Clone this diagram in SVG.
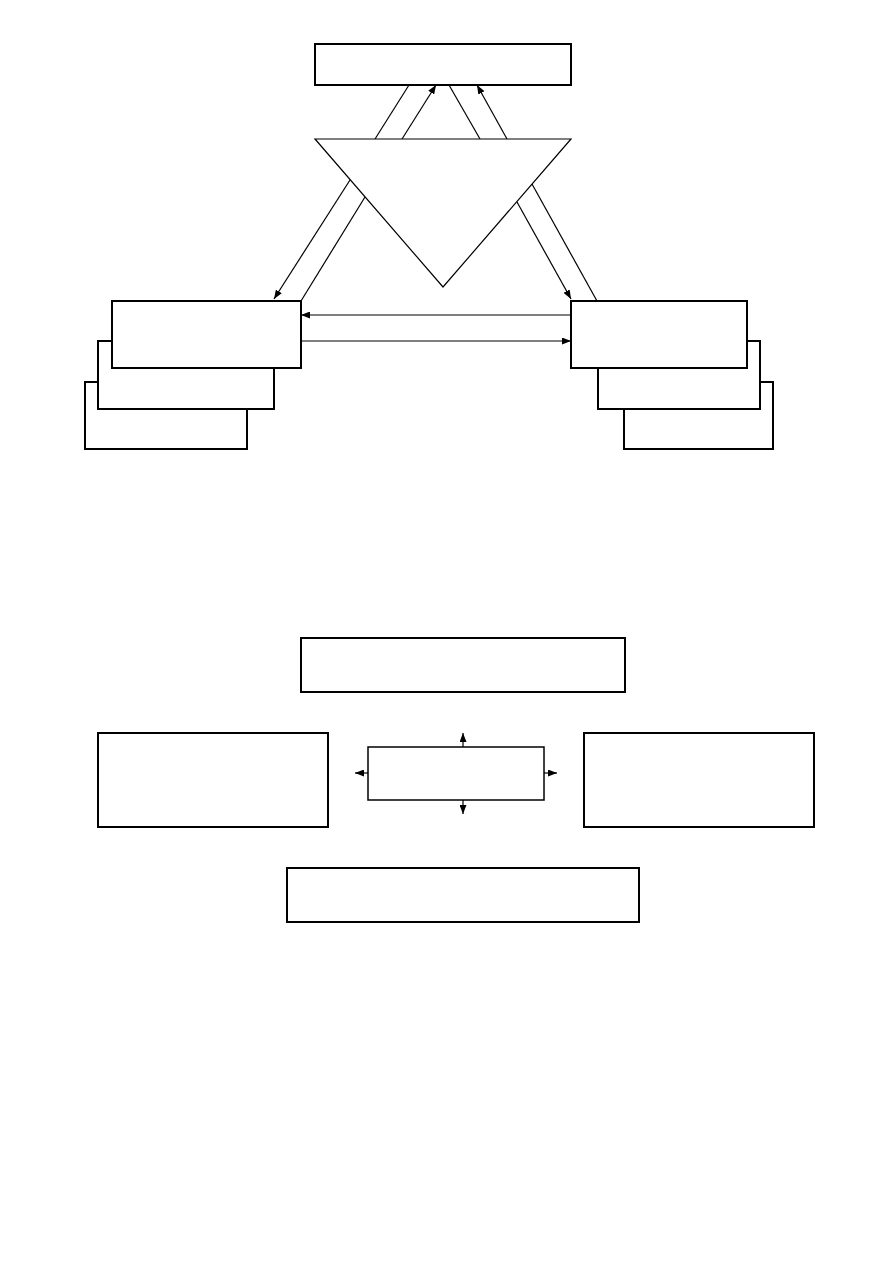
<svg xmlns="http://www.w3.org/2000/svg" width="893" height="1263" viewBox="0 0 893 1263">
  <defs>
    <marker id="arr" markerWidth="9" markerHeight="7" refX="9" refY="3.5" orient="auto" markerUnits="userSpaceOnUse">
      <path d="M0,0 L9,3.5 L0,7 Z" fill="#000"/>
    </marker>
    <style>
      .box{fill:#fff;stroke:#000;stroke-width:2}
      .thin{fill:#fff;stroke:#000;stroke-width:1.5}
      .tri{fill:#fff;stroke:#000;stroke-width:1.2}
      .c{fill:none;stroke:#000;stroke-width:1.2}
      .a{fill:none;stroke:#000;stroke-width:1.2;marker-end:url(#arr)}
    </style>
  </defs>
  <rect width="893" height="1263" fill="#fff"/>

  <g id="connectors">
    <line class="c" x1="375" y1="139" x2="409" y2="85"/>
    <line class="a" x1="402" y1="139" x2="436" y2="85"/>
    <line class="c" x1="480" y1="139" x2="449" y2="85"/>
    <line class="a" x1="507" y1="139" x2="477" y2="85"/>
    <line class="a" x1="350" y1="180" x2="274" y2="299"/>
    <line class="c" x1="365" y1="197" x2="301" y2="301"/>
    <line class="c" x1="532" y1="184" x2="597" y2="301"/>
    <line class="a" x1="517" y1="202" x2="571" y2="299"/>
    <line class="a" x1="571" y1="315" x2="301" y2="315"/>
    <line class="a" x1="301" y1="341" x2="571" y2="341"/>
    <line class="a" x1="463" y1="747" x2="463" y2="733"/>
    <line class="a" x1="463" y1="800" x2="463" y2="814"/>
    <line class="a" x1="368" y1="773" x2="355" y2="773"/>
    <line class="a" x1="544" y1="773" x2="557" y2="773"/>
  </g>

  <g id="top-box"><rect class="box" x="315" y="44" width="256" height="41"/></g>
  <g id="triangle"><polygon class="tri" points="315,139 571,139 443,287"/></g>

  <g id="left-stack">
    <rect class="box" x="85" y="382" width="162" height="67"/>
    <rect class="box" x="98" y="341" width="176" height="68"/>
    <rect class="box" x="112" y="301" width="189" height="67"/>
  </g>
  <g id="right-stack">
    <rect class="box" x="624" y="382" width="149" height="67"/>
    <rect class="box" x="598" y="341" width="162" height="68"/>
    <rect class="box" x="571" y="301" width="176" height="67"/>
  </g>

  <g id="bottom-top-box"><rect class="box" x="301" y="638" width="324" height="54"/></g>
  <g id="center-box"><rect class="thin" x="368" y="747" width="176" height="53"/></g>
  <g id="left-box"><rect class="box" x="98" y="733" width="230" height="94"/></g>
  <g id="right-box"><rect class="box" x="584" y="733" width="230" height="94"/></g>
  <g id="bottom-box"><rect class="box" x="287" y="868" width="352" height="54"/></g>
</svg>
